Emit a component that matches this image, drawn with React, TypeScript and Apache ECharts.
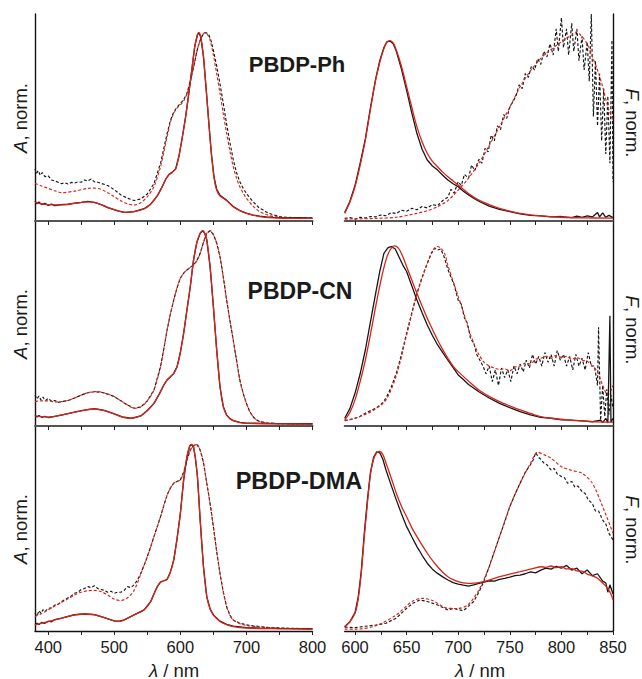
import React, { useEffect, useRef } from "react";
import * as echarts from "echarts";

const RED = "#d8231c";
const BLACK = "#161616";
const FONT = "'Liberation Sans', Arial, Helvetica, sans-serif";

// ---------- axis ticks / labels ----------
const absTicks = [400, 450, 500, 550, 600, 650, 700, 750, 800];
const absLabels = [400, 500, 600, 700, 800];
const emTicks = [600, 625, 650, 675, 700, 725, 750, 775, 800, 825, 850];
const emLabels = [600, 650, 700, 750, 800, 850];
const compounds = ["PBDP-Ph", "PBDP-CN", "PBDP-DMA"];

// ---------- PBDP-Ph : absorption ----------
const phAbsSolidK = [[380,0.098],[383,0.082],[386,0.092],[390,0.078],[395,0.085],[400,0.074],[405,0.08],[410,0.072],[420,0.078],[430,0.08],[440,0.086],[450,0.09],[460,0.095],[470,0.09],[480,0.078],[490,0.062],[505,0.044],[516,0.036],[530,0.04],[545,0.056],[555,0.08],[565,0.125],[572,0.17],[578,0.215],[583,0.24],[588,0.252],[593,0.27],[598,0.34],[603,0.44],[608,0.55],[613,0.68],[618,0.82],[622,0.93],[626,0.99],[628,1.0],[631,0.975],[635,0.87],[639,0.7],[643,0.52],[647,0.35],[651,0.225],[655,0.16],[660,0.128],[665,0.115],[670,0.102],[680,0.068],[690,0.046],[700,0.032],[710,0.022],[720,0.016],[730,0.012],[740,0.009],[760,0.006],[780,0.008],[800,0.005]];
const phAbsSolidR = [[380,0.09],[390,0.082],[400,0.078],[420,0.076],[440,0.084],[460,0.093],[475,0.085],[490,0.063],[505,0.045],[516,0.036],[530,0.04],[545,0.055],[555,0.08],[565,0.125],[572,0.17],[578,0.215],[583,0.24],[588,0.252],[593,0.27],[598,0.34],[603,0.44],[608,0.55],[613,0.68],[618,0.82],[622,0.93],[626,0.99],[628,1.0],[631,0.975],[635,0.87],[639,0.7],[643,0.52],[647,0.35],[651,0.22],[655,0.155],[660,0.124],[665,0.112],[670,0.1],[680,0.066],[690,0.045],[700,0.031],[720,0.014],[750,0.006],[800,0.004]];
const phAbsDashK = [[380,0.27],[382,0.245],[385,0.26],[388,0.235],[391,0.25],[395,0.228],[400,0.232],[405,0.21],[410,0.205],[415,0.198],[420,0.19],[425,0.195],[430,0.188],[435,0.197],[440,0.194],[445,0.2],[450,0.198],[455,0.21],[460,0.205],[465,0.215],[470,0.2],[475,0.198],[480,0.192],[490,0.18],[500,0.158],[510,0.13],[520,0.112],[530,0.1],[540,0.108],[550,0.135],[560,0.19],[570,0.3],[575,0.38],[580,0.46],[585,0.53],[590,0.575],[595,0.6],[600,0.62],[605,0.64],[610,0.675],[615,0.74],[620,0.815],[625,0.9],[630,0.96],[635,0.995],[639,1.0],[643,0.99],[647,0.95],[650,0.905],[655,0.82],[660,0.725],[665,0.62],[670,0.51],[675,0.41],[680,0.32],[685,0.25],[690,0.2],[695,0.165],[700,0.138],[705,0.115],[710,0.094],[715,0.075],[720,0.058],[725,0.05],[730,0.038],[735,0.03],[740,0.024],[750,0.014],[760,0.01],[770,0.008],[780,0.006],[800,0.005]];
const phAbsDashR = [[380,0.192],[390,0.178],[400,0.165],[410,0.152],[420,0.142],[440,0.15],[460,0.165],[470,0.166],[480,0.16],[490,0.142],[500,0.12],[510,0.098],[520,0.082],[530,0.076],[540,0.088],[550,0.12],[560,0.174],[570,0.281],[575,0.36],[580,0.442],[585,0.52],[590,0.567],[595,0.595],[600,0.612],[605,0.635],[610,0.67],[615,0.735],[620,0.815],[625,0.9],[630,0.96],[634,0.99],[637,1.0],[641,0.99],[645,0.96],[650,0.88],[655,0.78],[660,0.675],[665,0.565],[670,0.46],[675,0.365],[680,0.281],[685,0.22],[690,0.174],[695,0.14],[700,0.112],[705,0.09],[710,0.07],[715,0.053],[720,0.04],[730,0.025],[740,0.015],[760,0.007],[800,0.004]];

// ---------- PBDP-Ph : emission ----------
const phEmSolidK = [[590,0.035],[595,0.095],[600,0.18],[605,0.3],[610,0.43],[615,0.6],[620,0.752],[624,0.85],[628,0.92],[631,0.952],[634,0.955],[637,0.94],[640,0.9],[645,0.805],[650,0.69],[655,0.57],[660,0.459],[665,0.375],[670,0.317],[675,0.285],[680,0.263],[685,0.235],[690,0.21],[695,0.19],[700,0.174],[705,0.15],[710,0.13],[715,0.112],[720,0.096],[730,0.07],[740,0.052],[750,0.04],[760,0.028],[770,0.02],[780,0.018],[790,0.012],[800,0.014],[810,0.008],[815,0.016],[820,0.01],[825,0.018],[830,0.012],[835,0.035],[837,0.012],[840,0.034],[843,0.01],[846,0.02],[850,0.008]];
const phEmSolidR = [[590,0.031],[595,0.09],[600,0.174],[605,0.29],[610,0.424],[615,0.59],[620,0.746],[624,0.84],[628,0.915],[631,0.95],[634,0.957],[637,0.945],[640,0.907],[645,0.82],[650,0.71],[655,0.6],[660,0.495],[665,0.415],[670,0.353],[675,0.31],[680,0.281],[685,0.252],[690,0.227],[695,0.205],[700,0.183],[710,0.138],[720,0.102],[730,0.078],[740,0.058],[750,0.043],[760,0.031],[780,0.017],[800,0.01],[820,0.007],[850,0.005]];
const phEmDashK = [[590,0.004],[595,0.008],[600,0.0],[605,0.01],[610,0.006],[615,0.014],[620,0.012],[625,0.022],[630,0.018],[635,0.035],[640,0.03],[645,0.048],[650,0.042],[655,0.058],[660,0.05],[665,0.068],[670,0.06],[675,0.078],[680,0.072],[685,0.1],[690,0.118],[693,0.16],[696,0.14],[700,0.2],[703,0.18],[706,0.24],[710,0.22],[713,0.29],[716,0.26],[720,0.32],[723,0.3],[726,0.38],[729,0.36],[732,0.45],[735,0.42],[738,0.5],[741,0.48],[744,0.56],[747,0.54],[750,0.6],[753,0.63],[756,0.66],[759,0.72],[762,0.7],[765,0.78],[768,0.76],[771,0.82],[774,0.8],[777,0.86],[780,0.83],[783,0.9],[786,0.87],[789,0.94],[792,0.88],[795,1.02],[797,0.9],[800,1.08],[802,0.92],[805,1.02],[807,0.88],[810,1.05],[812,0.9],[815,1.02],[817,0.85],[820,0.98],[822,0.8],[825,0.95],[827,0.74],[829,1.1],[831,0.55],[833,0.85],[835,0.5],[837,0.78],[839,0.42],[841,0.7],[843,0.35],[845,0.66],[847,0.3],[849,0.96],[850,0.2]];
const phEmDashR = [[590,0.0],[620,0.004],[640,0.01],[660,0.031],[670,0.045],[680,0.067],[690,0.1],[700,0.156],[710,0.22],[720,0.299],[730,0.395],[740,0.496],[750,0.6],[760,0.71],[770,0.795],[780,0.862],[790,0.91],[800,0.951],[805,0.97],[810,0.987],[815,1.005],[818,0.99],[822,0.965],[826,0.93],[830,0.87],[835,0.8],[840,0.71],[845,0.603],[850,0.531]];

// ---------- PBDP-CN : absorption ----------
const cnAbsSolidK = [[380,0.046],[383,0.036],[386,0.044],[390,0.035],[395,0.04],[400,0.034],[410,0.04],[420,0.046],[440,0.062],[455,0.072],[470,0.08],[485,0.071],[500,0.053],[512,0.037],[525,0.03],[540,0.042],[550,0.07],[560,0.107],[568,0.155],[575,0.202],[580,0.228],[585,0.245],[590,0.262],[595,0.297],[600,0.37],[605,0.47],[610,0.59],[615,0.71],[620,0.849],[625,0.94],[630,0.987],[634,1.0],[637,0.985],[640,0.952],[645,0.814],[650,0.607],[655,0.383],[660,0.193],[665,0.09],[670,0.047],[675,0.028],[680,0.018],[690,0.009],[700,0.005],[720,0.004],[750,0.002],[800,0.002]];
const cnAbsSolidR = [[380,0.042],[390,0.038],[400,0.036],[420,0.047],[440,0.062],[455,0.072],[470,0.078],[485,0.07],[500,0.052],[512,0.036],[525,0.03],[540,0.042],[550,0.07],[560,0.107],[568,0.155],[575,0.202],[580,0.228],[585,0.245],[590,0.262],[595,0.297],[600,0.37],[605,0.47],[610,0.59],[615,0.71],[620,0.849],[625,0.94],[630,0.987],[634,1.0],[637,0.985],[640,0.952],[645,0.814],[650,0.607],[655,0.383],[660,0.193],[665,0.09],[670,0.047],[675,0.028],[680,0.018],[690,0.008],[700,0.004],[750,0.001],[800,0.0]];
const cnAbsDashK = [[380,0.15],[383,0.13],[386,0.145],[389,0.125],[392,0.14],[396,0.122],[400,0.133],[405,0.118],[410,0.122],[415,0.112],[420,0.116],[430,0.122],[440,0.135],[450,0.15],[460,0.162],[470,0.167],[480,0.165],[490,0.155],[500,0.142],[510,0.12],[520,0.099],[530,0.082],[540,0.088],[550,0.12],[560,0.176],[570,0.297],[575,0.39],[580,0.487],[585,0.57],[590,0.642],[595,0.705],[600,0.754],[605,0.78],[610,0.797],[615,0.81],[620,0.823],[625,0.845],[630,0.883],[635,0.94],[640,0.987],[645,1.0],[650,0.98],[655,0.935],[660,0.866],[665,0.76],[670,0.642],[675,0.535],[680,0.435],[685,0.33],[690,0.228],[695,0.16],[700,0.107],[705,0.065],[710,0.038],[715,0.022],[720,0.013],[730,0.006],[750,0.002],[800,0.0]];
const cnAbsDashR = [[380,0.116],[390,0.12],[400,0.12],[410,0.115],[420,0.116],[430,0.122],[440,0.135],[450,0.15],[460,0.162],[470,0.168],[480,0.166],[490,0.155],[500,0.142],[510,0.12],[520,0.099],[530,0.082],[540,0.088],[550,0.12],[560,0.176],[570,0.297],[575,0.39],[580,0.487],[585,0.57],[590,0.642],[595,0.705],[600,0.754],[605,0.78],[610,0.797],[615,0.81],[620,0.823],[625,0.845],[630,0.883],[635,0.94],[640,0.987],[645,1.0],[650,0.98],[655,0.935],[660,0.866],[665,0.76],[670,0.642],[675,0.535],[680,0.435],[685,0.33],[690,0.228],[695,0.16],[700,0.107],[705,0.065],[710,0.038],[715,0.022],[720,0.013],[730,0.006],[750,0.002],[800,0.0]];

// ---------- PBDP-CN : emission ----------
const cnEmSolidK = [[590,0.03],[595,0.08],[600,0.159],[605,0.26],[610,0.383],[615,0.53],[620,0.676],[624,0.79],[628,0.883],[632,0.912],[635,0.918],[639,0.905],[643,0.86],[647,0.815],[650,0.789],[655,0.715],[660,0.642],[665,0.575],[670,0.512],[675,0.458],[680,0.409],[690,0.33],[700,0.254],[705,0.23],[710,0.205],[720,0.167],[730,0.135],[740,0.107],[750,0.085],[760,0.064],[770,0.048],[780,0.035],[790,0.03],[800,0.022],[810,0.02],[820,0.016],[830,0.012],[838,0.02],[840,0.008],[843,0.03],[845,0.005],[847,0.56],[848,0.01],[850,0.03]];
const cnEmSolidR = [[590,0.021],[595,0.06],[600,0.125],[605,0.22],[610,0.331],[615,0.465],[620,0.607],[625,0.74],[630,0.849],[634,0.9],[638,0.921],[642,0.91],[646,0.87],[650,0.814],[655,0.745],[660,0.676],[665,0.61],[670,0.547],[675,0.49],[680,0.435],[685,0.385],[690,0.34],[695,0.3],[700,0.271],[710,0.222],[720,0.176],[730,0.143],[740,0.116],[750,0.094],[760,0.073],[770,0.055],[780,0.038],[790,0.03],[800,0.025],[815,0.018],[830,0.013],[850,0.01]];
const cnEmDashK = [[590,0.018],[595,0.022],[600,0.03],[605,0.04],[610,0.056],[615,0.07],[620,0.082],[625,0.1],[630,0.133],[635,0.19],[640,0.263],[645,0.36],[650,0.47],[655,0.575],[660,0.676],[665,0.76],[670,0.831],[674,0.885],[677,0.909],[680,0.9],[683,0.905],[686,0.87],[690,0.8],[693,0.76],[696,0.72],[700,0.64],[703,0.62],[706,0.55],[709,0.52],[712,0.44],[715,0.42],[718,0.36],[721,0.33],[724,0.3],[727,0.26],[730,0.3],[733,0.22],[736,0.28],[739,0.2],[742,0.29],[745,0.24],[748,0.28],[751,0.22],[754,0.3],[757,0.26],[760,0.31],[763,0.27],[766,0.33],[769,0.29],[772,0.36],[775,0.31],[778,0.35],[781,0.3],[784,0.37],[787,0.32],[790,0.36],[793,0.3],[796,0.38],[799,0.33],[802,0.36],[805,0.3],[808,0.35],[811,0.28],[814,0.36],[817,0.3],[820,0.34],[823,0.28],[826,0.37],[829,0.3],[832,0.3],[835,0.2],[836,0.5],[838,0.02],[840,0.2],[842,0.04],[844,0.18],[846,0.05],[848,0.15],[850,0.08]];
const cnEmDashR = [[590,0.018],[600,0.03],[610,0.05],[620,0.078],[630,0.125],[640,0.25],[650,0.46],[660,0.67],[670,0.83],[675,0.89],[679,0.918],[683,0.91],[687,0.88],[690,0.82],[695,0.74],[700,0.66],[705,0.58],[710,0.49],[715,0.42],[720,0.36],[725,0.32],[730,0.3],[735,0.29],[740,0.282],[745,0.285],[750,0.275],[755,0.295],[760,0.3],[765,0.315],[770,0.31],[775,0.335],[780,0.34],[785,0.35],[790,0.34],[795,0.355],[800,0.345],[805,0.35],[810,0.335],[815,0.345],[820,0.33],[825,0.325],[830,0.3],[835,0.27],[840,0.2],[845,0.15],[850,0.2]];

// ---------- PBDP-DMA : absorption ----------
const dmaAbsSolidK = [[380,0.02],[383,0.032],[386,0.025],[390,0.036],[395,0.032],[400,0.043],[405,0.04],[410,0.052],[420,0.06],[440,0.078],[455,0.082],[470,0.079],[485,0.063],[500,0.045],[508,0.043],[515,0.05],[530,0.077],[545,0.104],[555,0.149],[560,0.19],[565,0.23],[570,0.255],[575,0.262],[580,0.27],[585,0.31],[590,0.375],[595,0.49],[600,0.627],[605,0.808],[610,0.934],[614,0.99],[617,1.0],[620,0.985],[623,0.92],[626,0.82],[630,0.591],[635,0.338],[640,0.176],[645,0.11],[650,0.077],[660,0.043],[670,0.026],[680,0.016],[700,0.008],[720,0.006],[750,0.004],[800,0.002]];
const dmaAbsSolidR = [[380,0.023],[390,0.032],[400,0.041],[420,0.059],[440,0.077],[455,0.082],[470,0.078],[485,0.062],[500,0.044],[508,0.042],[515,0.05],[530,0.077],[545,0.104],[555,0.149],[560,0.19],[565,0.23],[570,0.255],[575,0.262],[580,0.27],[585,0.31],[590,0.375],[595,0.49],[600,0.627],[605,0.808],[610,0.934],[614,0.99],[617,1.0],[620,0.985],[623,0.92],[626,0.82],[630,0.591],[635,0.338],[640,0.176],[645,0.11],[650,0.077],[660,0.041],[670,0.024],[680,0.014],[700,0.006],[750,0.002],[800,0.0]];
const dmaAbsDashK = [[380,0.086],[383,0.07],[386,0.1],[389,0.085],[392,0.105],[395,0.095],[400,0.113],[405,0.115],[410,0.13],[415,0.135],[420,0.149],[425,0.16],[430,0.17],[435,0.18],[440,0.194],[445,0.2],[450,0.215],[455,0.22],[460,0.23],[465,0.225],[470,0.235],[475,0.22],[480,0.215],[485,0.21],[490,0.2],[495,0.205],[500,0.194],[505,0.2],[510,0.2],[515,0.21],[520,0.23],[525,0.225],[530,0.24],[535,0.265],[540,0.302],[545,0.345],[550,0.393],[555,0.445],[560,0.501],[565,0.555],[570,0.609],[575,0.67],[580,0.727],[585,0.765],[590,0.79],[595,0.8],[600,0.808],[605,0.85],[610,0.916],[615,0.97],[620,0.992],[625,1.0],[630,0.97],[635,0.9],[640,0.79],[645,0.68],[650,0.555],[655,0.42],[660,0.302],[665,0.2],[670,0.122],[675,0.075],[680,0.05],[690,0.032],[700,0.023],[710,0.018],[720,0.014],[735,0.008],[750,0.006],[800,0.002]];
const dmaAbsDashR = [[380,0.068],[390,0.085],[400,0.105],[410,0.125],[420,0.145],[430,0.165],[440,0.185],[450,0.2],[460,0.208],[470,0.21],[480,0.203],[490,0.185],[500,0.162],[510,0.155],[520,0.17],[530,0.21],[540,0.298],[545,0.345],[550,0.393],[555,0.445],[560,0.501],[565,0.555],[570,0.609],[575,0.67],[580,0.727],[585,0.765],[590,0.79],[595,0.8],[600,0.808],[605,0.85],[610,0.916],[615,0.97],[620,0.992],[625,1.0],[630,0.97],[635,0.9],[640,0.79],[645,0.68],[650,0.555],[655,0.42],[660,0.302],[665,0.2],[670,0.122],[675,0.075],[680,0.05],[690,0.03],[700,0.02],[720,0.012],[750,0.005],[800,0.001]];

// ---------- PBDP-DMA : emission ----------
const dmaEmSolidK = [[590,0.012],[595,0.04],[600,0.09],[603,0.17],[606,0.31],[609,0.52],[612,0.7],[615,0.85],[618,0.93],[621,0.96],[624,0.955],[627,0.92],[630,0.862],[635,0.78],[640,0.7],[645,0.625],[650,0.555],[655,0.5],[660,0.447],[665,0.4],[670,0.357],[675,0.325],[680,0.302],[685,0.283],[690,0.266],[695,0.252],[700,0.244],[705,0.238],[710,0.233],[715,0.24],[720,0.248],[725,0.255],[730,0.262],[735,0.26],[740,0.27],[745,0.275],[750,0.282],[755,0.29],[760,0.293],[765,0.3],[770,0.31],[775,0.305],[780,0.32],[785,0.33],[790,0.325],[795,0.34],[800,0.33],[805,0.345],[810,0.32],[815,0.33],[820,0.3],[825,0.32],[830,0.29],[835,0.3],[840,0.26],[843,0.25],[845,0.2],[847,0.24],[850,0.19]];
const dmaEmSolidR = [[590,0.014],[595,0.04],[600,0.086],[603,0.16],[606,0.3],[609,0.5],[612,0.68],[615,0.84],[618,0.92],[621,0.955],[624,0.962],[627,0.945],[630,0.9],[635,0.82],[640,0.736],[645,0.665],[650,0.609],[655,0.55],[660,0.501],[665,0.455],[670,0.411],[675,0.372],[680,0.338],[685,0.308],[690,0.284],[695,0.268],[700,0.257],[705,0.25],[710,0.248],[715,0.249],[720,0.252],[730,0.266],[740,0.284],[750,0.298],[760,0.311],[770,0.325],[780,0.338],[785,0.335],[790,0.342],[795,0.333],[800,0.338],[805,0.326],[810,0.328],[815,0.315],[820,0.314],[825,0.298],[830,0.288],[835,0.276],[840,0.25],[845,0.22],[848,0.19],[850,0.158]];
const dmaEmDashK = [[590,0.011],[600,0.008],[610,0.016],[620,0.022],[630,0.032],[640,0.06],[650,0.113],[656,0.14],[663,0.158],[670,0.15],[680,0.131],[690,0.104],[695,0.112],[700,0.106],[705,0.1],[710,0.125],[715,0.15],[720,0.2],[725,0.26],[730,0.338],[735,0.42],[740,0.5],[745,0.58],[750,0.663],[755,0.73],[760,0.79],[765,0.85],[770,0.89],[773,0.92],[775,0.955],[778,0.93],[780,0.92],[783,0.9],[786,0.89],[790,0.862],[793,0.87],[796,0.84],[800,0.826],[803,0.82],[806,0.79],[810,0.8],[813,0.77],[816,0.775],[820,0.745],[823,0.735],[826,0.7],[830,0.68],[833,0.64],[836,0.64],[840,0.59],[843,0.57],[846,0.52],[850,0.483]];
const dmaEmDashR = [[590,0.0],[600,0.0],[620,0.018],[640,0.077],[655,0.149],[665,0.167],[675,0.155],[690,0.113],[700,0.112],[710,0.135],[720,0.212],[730,0.338],[740,0.501],[750,0.663],[760,0.79],[770,0.898],[777,0.958],[783,0.945],[790,0.925],[800,0.88],[810,0.86],[820,0.844],[830,0.79],[840,0.663],[850,0.519]];

const panels = [
  [phAbsSolidK, phAbsSolidR, phAbsDashK, phAbsDashR],
  [phEmSolidK, phEmSolidR, phEmDashK, phEmDashR],
  [cnAbsSolidK, cnAbsSolidR, cnAbsDashK, cnAbsDashR],
  [cnEmSolidK, cnEmSolidR, cnEmDashK, cnEmDashR],
  [dmaAbsSolidK, dmaAbsSolidR, dmaAbsDashK, dmaAbsDashR],
  [dmaEmSolidK, dmaEmSolidR, dmaEmDashK, dmaEmDashR],
];

const rowTops = [14, 221, 426];
const rowHeights = [207, 205, 205];
const rowYMax = [1.1, 1.05, 1.1];

export default function App() {
  const ref = useRef<HTMLDivElement>(null);

  useEffect(() => {
    if (!ref.current) return;
    const chart = echarts.init(ref.current, null, { renderer: "svg" });

    const grids: any[] = [];
    const xAxes: any[] = [];
    const yAxes: any[] = [];
    const series: any[] = [];

    for (let r = 0; r < 3; r++) {
      for (let c = 0; c < 2; c++) {
        const idx = r * 2 + c;
        const isLeft = c === 0;
        const isBottom = r === 2;
        grids.push({
          left: isLeft ? 35 : 344.7,
          width: isLeft ? 277.5 : 268.3,
          top: rowTops[r],
          height: rowHeights[r],
        });
        xAxes.push({
          type: "value",
          gridIndex: idx,
          min: isLeft ? 380 : 590,
          max: isLeft ? 800 : 850,
          axisLine: {
            show: true,
            onZero: false,
            lineStyle: { color: isBottom ? "#111" : "#555", width: isBottom ? 1.4 : 2 },
          },
          axisTick: {
            show: true,
            inside: false,
            length: 4,
            customValues: isLeft ? absTicks : emTicks,
            lineStyle: { color: "#222", width: 1 },
          },
          axisLabel: {
            show: isBottom,
            customValues: isLeft ? absLabels : emLabels,
            margin: 7,
            fontFamily: FONT,
            fontSize: 16.5,
            color: "#1a1a1a",
          },
          splitLine: { show: false },
        });
        yAxes.push({
          type: "value",
          gridIndex: idx,
          position: isLeft ? "left" : "right",
          min: -0.01,
          max: rowYMax[r],
          axisLine: { show: true, onZero: false, lineStyle: { color: "#111", width: 1.4 } },
          axisTick: { show: false },
          axisLabel: { show: false },
          splitLine: { show: false },
        });
        const [sk, sr, dk, dr] = panels[idx];
        const mk = (data: number[][], color: string, dashed: boolean, smooth: boolean) => ({
          type: "line",
          xAxisIndex: idx,
          yAxisIndex: idx,
          data,
          showSymbol: false,
          symbol: "none",
          smooth: smooth ? 0.3 : false,
          lineStyle: {
            color,
            width: dashed ? 1.15 : 1.3,
            type: dashed ? [3, 2] : "solid",
          },
          silent: true,
        });
        series.push(mk(dk, BLACK, true, false));
        series.push(mk(dr, RED, true, true));
        series.push(mk(sk, BLACK, false, false));
        series.push(mk(sr, RED, false, true));
      }
    }

    const titleY = [64, 291, 481];
    const titleSizes = [22, 23, 23.5];
    const titleX = [297, 300, 299];
    const graphic: any[] = [];
    for (let r = 0; r < 3; r++) {
      graphic.push({
        type: "text",
        x: titleX[r],
        y: titleY[r],
        style: {
          text: compounds[r],
          fontFamily: FONT,
          fontWeight: "bold",
          fontSize: titleSizes[r],
          fill: "#1a1a1a",
          textAlign: "center",
          textVerticalAlign: "middle",
        },
      });
    }
    const leftLabelY = [118, 324, 529];
    const rightLabelY = [123, 330, 530];
    for (let r = 0; r < 3; r++) {
      graphic.push({
        type: "text",
        x: 20,
        y: leftLabelY[r],
        rotation: Math.PI / 2,
        style: {
          text: "{i|A}, norm.",
          fontFamily: FONT,
          fontSize: 18.5,
          fill: "#1a1a1a",
          textAlign: "center",
          textVerticalAlign: "middle",
          rich: { i: { fontStyle: "italic", fontFamily: FONT, fontSize: 18.5, fill: "#1a1a1a" } },
        },
      });
      graphic.push({
        type: "text",
        x: 632,
        y: rightLabelY[r],
        rotation: -Math.PI / 2,
        style: {
          text: "{i|F}, norm.",
          fontFamily: FONT,
          fontSize: 18.5,
          fill: "#1a1a1a",
          textAlign: "center",
          textVerticalAlign: "middle",
          rich: { i: { fontStyle: "italic", fontFamily: FONT, fontSize: 18.5, fill: "#1a1a1a" } },
        },
      });
    }
    for (const cx of [174, 480]) {
      graphic.push({
        type: "text",
        x: cx,
        y: 670,
        style: {
          text: "{i|λ} / nm",
          fontFamily: FONT,
          fontSize: 18.5,
          fill: "#1a1a1a",
          textAlign: "center",
          textVerticalAlign: "middle",
          rich: { i: { fontStyle: "italic", fontFamily: FONT, fontSize: 18.5, fill: "#1a1a1a" } },
        },
      });
    }

    chart.setOption({
      animation: false,
      backgroundColor: "#ffffff",
      grid: grids,
      xAxis: xAxes,
      yAxis: yAxes,
      series,
      graphic,
    });

    return () => chart.dispose();
  }, []);

  return (
    <div
      ref={ref}
      style={{ position: "fixed", left: 0, top: 0, width: 642, height: 679 }}
    />
  );
}
